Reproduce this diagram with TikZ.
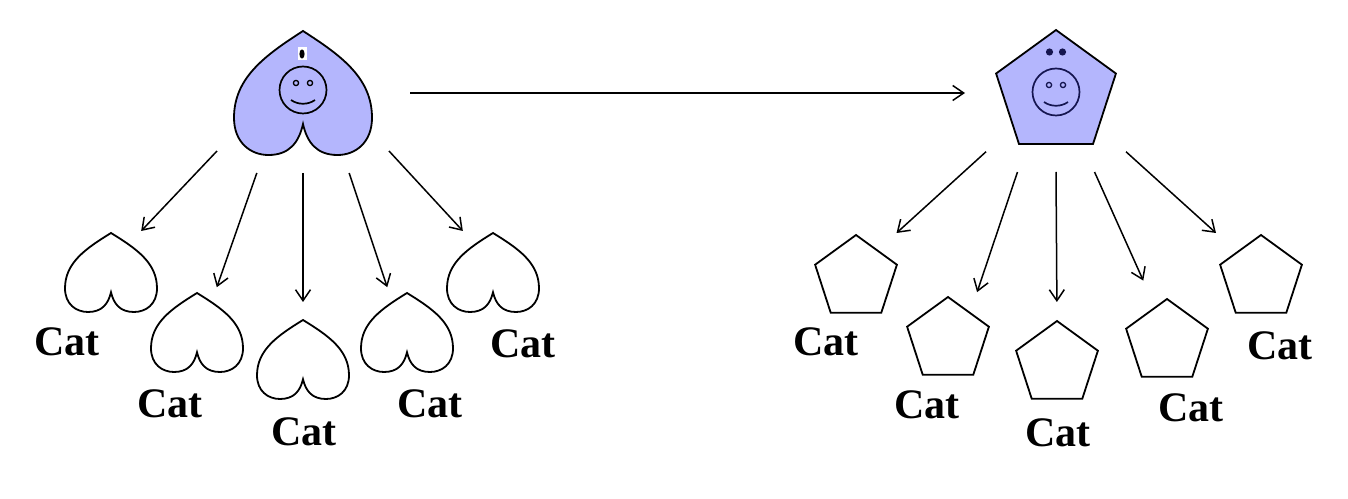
\documentclass[tikz,border=0pt]{standalone}
\usepackage{fontspec}
\setmainfont{Liberation Serif}
\usetikzlibrary{arrows.meta}
\definecolor{lilac}{HTML}{B4B6FD}
\definecolor{navy}{HTML}{15154F}
\newcommand{\cat}{Cat}

\tikzset{
  spot/.style 2 args={minimum width=#1pt, minimum height=#2pt, inner sep=0pt, outer sep=0pt},
  lbl/.style={inner sep=0pt, font=\fontsize{42}{42}\selectfont\bfseries},
  arr/.style={-{Straight Barb[length=11pt,width=15pt]}, line width=1.5pt},
  outline/.style={draw, line width=1.8pt},
  heart/.pic={
    \path[pic actions] (0,0.5) .. controls (-0.28,0.3) and (-0.5,0.12) .. (-0.5,-0.2)
      .. controls (-0.5,-0.4) and (-0.38,-0.5) .. (-0.25,-0.5)
      .. controls (-0.1,-0.5) and (-0.03,-0.4) .. (0,-0.25)
      .. controls (0.03,-0.4) and (0.1,-0.5) .. (0.25,-0.5)
      .. controls (0.38,-0.5) and (0.5,-0.4) .. (0.5,-0.2)
      .. controls (0.5,0.12) and (0.28,0.3) .. (0,0.5) -- cycle;
  },
  pent/.pic={
    \path[pic actions] (90:1) -- (162:1) -- (234:1) -- (306:1) -- (18:1) -- cycle;
  },
  face/.pic={
    \draw[#1, line width=1.7pt] (0,0) circle (23.5);
    \draw[#1, line width=1.3pt] (-7,7) circle (2.6) (7,7) circle (2.6);
    \draw[#1, line width=1.7pt] (-12,-10) .. controls (-5,-15) and (5,-15) .. (12,-10);
  },
}

\begin{document}
\begin{tikzpicture}[x=1pt, y=1pt]
    \useasboundingbox (0,0) rectangle (1348,498);

    % the two parents
    \node[spot={172}{160}] (L) at (303,405) {};
    \node[spot={140}{158}] (R) at (1056,405) {};
    \pic[outline, fill=lilac, xscale=138, yscale=124] at (L) {heart};
    \pic at ([yshift=3]L) {face=black};
    \node[spot={9}{13}, fill=white] (Lmark) at ([shift={(-1,39)}]L) {};
    \fill (Lmark) ellipse (2.6 and 4.6);
    \pic[outline, fill=lilac, scale=63] at (R) {pent};
    \pic at ([yshift=1]R) {face=navy};
    \fill[navy] ([shift={(-6.5,41)}]R) circle (3.6) ([shift={(6.5,41)}]R) circle (3.6);

    % hearts
    \node[spot={96}{83}] (h1) at (111,225.5) {};
    \node[spot={96}{83}] (h2) at (197,165.5) {};
    \node[spot={96}{83}] (h3) at (303,138.5) {};
    \node[spot={96}{83}] (h4) at (407,165.5) {};
    \node[spot={96}{83}] (h5) at (493,225.5) {};
    \foreach \n in {h1,h2,h3,h4,h5}
      \pic[outline, xscale=92, yscale=79] at (\n) {heart};
    \node[lbl] (c1) at (67,156) {\cat};
    \node[lbl] (c2) at (170,94) {\cat};
    \node[lbl] (c3) at (304,66) {\cat};
    \node[lbl] (c4) at (430,94) {\cat};
    \node[lbl] (c5) at (523,154) {\cat};

    % pentagons
    \node[spot={90}{90}] (p1) at (856,220) {};
    \node[spot={90}{90}] (p2) at (948,158) {};
    \node[spot={90}{90}] (p3) at (1057,134) {};
    \node[spot={90}{90}] (p4) at (1167,156) {};
    \node[spot={90}{90}] (p5) at (1261,220) {};
    \foreach \n in {p1,p2,p3,p4,p5}
      \pic[outline, scale=43] at (\n) {pent};
    \node[lbl] (d1) at (826,156) {\cat};
    \node[lbl] (d2) at (927,93) {\cat};
    \node[lbl] (d3) at (1058,65) {\cat};
    \node[lbl] (d4) at (1191,90) {\cat};
    \node[lbl] (d5) at (1280,152) {\cat};

    \path [arr] (L.east) edge[shorten <=21pt, shorten >=21pt] (R.west);
    \path [arr] (L.214) edge (h1.54);
    \path [arr] (L.240) edge[shorten >=4pt] (h2.66);
    \path [arr] (L.south) edge[shorten >=16pt] (h3.north);
    \path [arr] (L.300) edge[shorten >=4pt] (h4.114);
    \path [arr] (L.326) edge (h5.126);
    \path [arr] (R.220) edge (p1.48);
    \path [arr] (R.244) edge[shorten >=3pt] (p2.58);
    \path [arr] (R.south) edge[shorten >=17pt] (p3.north);
    \path [arr] (R.296) edge[shorten >=18pt] (p4.110);
    \path [arr] (R.320) edge (p5.135);
  \end{tikzpicture}
\end{document}
